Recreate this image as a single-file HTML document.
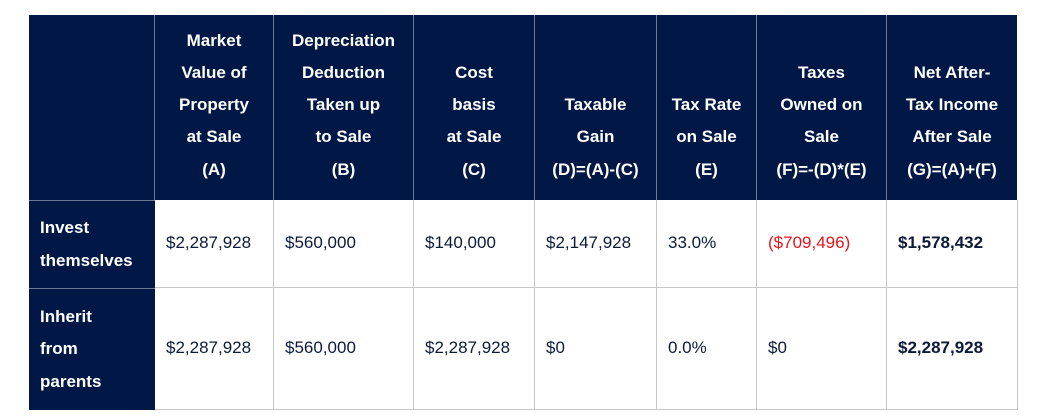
<!DOCTYPE html>
<html><head><meta charset="utf-8"><style>
body{margin:0;width:1039px;height:420px;background:#fff;font-family:"Liberation Sans",sans-serif;overflow:hidden}
.c{position:absolute;box-sizing:border-box;font-size:17px;line-height:32.3px}
.h{background:#011847;color:#fff;font-weight:bold;text-align:center;display:flex;align-items:flex-end;justify-content:center;padding-bottom:14px;border-right:1px solid #6b7a99}
.r{background:#011847;color:#fff;font-weight:bold;padding-left:11px;display:flex;align-items:center;border-top:1px solid #6b7a99}
.d{color:#0c1a3a;padding-left:11px;display:flex;align-items:center;border-right:1px solid #c8c8c8;border-bottom:1px solid #c8c8c8;background:#fff}
</style></head><body>
<div>
<div class="c h" style="left:29px;top:15px;width:126px;height:185px"></div>
<div class="c h" style="left:155px;top:15px;width:119px;height:185px">Market<br>Value of<br>Property<br>at Sale<br>(A)</div>
<div class="c h" style="left:274px;top:15px;width:140px;height:185px">Depreciation<br>Deduction<br>Taken up<br>to Sale<br>(B)</div>
<div class="c h" style="left:414px;top:15px;width:121px;height:185px">Cost<br>basis<br>at Sale<br>(C)</div>
<div class="c h" style="left:535px;top:15px;width:122px;height:185px">Taxable<br>Gain<br>(D)=(A)-(C)</div>
<div class="c h" style="left:657px;top:15px;width:100px;height:185px">Tax Rate<br>on Sale<br>(E)</div>
<div class="c h" style="left:757px;top:15px;width:130px;height:185px">Taxes<br>Owned on<br>Sale<br>(F)=-(D)*(E)</div>
<div class="c h" style="left:887px;top:15px;width:130px;height:185px;border-right:none">Net After-<br>Tax Income<br>After Sale<br>(G)=(A)+(F)</div>

<div class="c r" style="left:29px;top:200px;width:126px;height:88px">Invest<br>themselves</div>
<div class="c d" style="left:155px;top:200px;width:119px;height:88px">$2,287,928</div>
<div class="c d" style="left:274px;top:200px;width:140px;height:88px">$560,000</div>
<div class="c d" style="left:414px;top:200px;width:121px;height:88px">$140,000</div>
<div class="c d" style="left:535px;top:200px;width:122px;height:88px">$2,147,928</div>
<div class="c d" style="left:657px;top:200px;width:100px;height:88px">33.0%</div>
<div class="c d" style="left:757px;top:200px;width:130px;height:88px;color:#e8141c">($709,496)</div>
<div class="c d" style="left:887px;top:200px;width:131px;height:88px;font-weight:bold">$1,578,432</div>

<div class="c r" style="left:29px;top:288px;width:126px;height:122px">Inherit<br>from<br>parents</div>
<div class="c d" style="left:155px;top:288px;width:119px;height:122px">$2,287,928</div>
<div class="c d" style="left:274px;top:288px;width:140px;height:122px">$560,000</div>
<div class="c d" style="left:414px;top:288px;width:121px;height:122px">$2,287,928</div>
<div class="c d" style="left:535px;top:288px;width:122px;height:122px">$0</div>
<div class="c d" style="left:657px;top:288px;width:100px;height:122px">0.0%</div>
<div class="c d" style="left:757px;top:288px;width:130px;height:122px">$0</div>
<div class="c d" style="left:887px;top:288px;width:131px;height:122px;font-weight:bold">$2,287,928</div>
</div>
</body></html>
